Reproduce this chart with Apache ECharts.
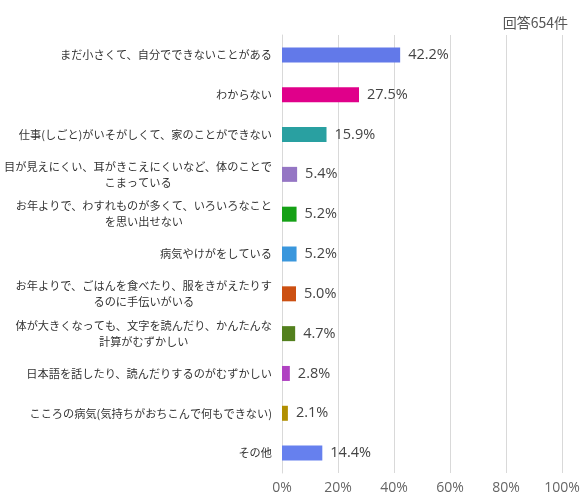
<!DOCTYPE html>
<html>
<head>
<meta charset="utf-8">
<script src="https://cdn.jsdelivr.net/npm/echarts@6/dist/echarts.min.js"></script>
<style>
  html, body { margin: 0; padding: 0; background: #fff; }
  #chart { width: 588px; height: 501px; }
</style>
</head>
<body>
<div id="chart"></div>
<script>
var categories = [
  'まだ小さくて、自分でできないことがある',
  'わからない',
  '仕事(しごと)がいそがしくて、家のことができない',
  '目が見えにくい、耳がきこえにくいなど、体のことで\nこまっている',
  'お年よりで、わすれものが多くて、いろいろなこと\nを思い出せない',
  '病気やけがをしている',
  'お年よりで、ごはんを食べたり、服をきがえたりす\nるのに手伝いがいる',
  '体が大きくなっても、文字を読んだり、かんたんな\n計算がむずかしい',
  '日本語を話したり、読んだりするのがむずかしい',
  'こころの病気(気持ちがおちこんで何もできない)',
  'その他'
];
var values = [42.2, 27.5, 15.9, 5.4, 5.2, 5.2, 5.0, 4.7, 2.8, 2.1, 14.4];
var colors = ['#6279E9', '#E0008A', '#29A0A1', '#9576C4', '#15A116', '#3A97DD',
              '#CC5012', '#53801E', '#B042C2', '#B18F00', '#6680EE'];
var xTicks = [0, 20, 40, 60, 80, 100];

var myChart = echarts.init(document.getElementById('chart'));

myChart.setOption({
    animation: false,
    title: {
        text: '回答654件',
        right: 15,
        top: 11,
        textStyle: {
            fontSize: 14,
            fontWeight: 'normal',
            color: '#555',
            fontFamily: '"Noto Sans CJK JP", sans-serif'
        }
    },
    grid: {
        left: 282,
        right: 26,
        top: 35,
        bottom: 28,
        containLabel: false,
        outerBoundsMode: 'none'
    },
    xAxis: {
        type: 'value',
        min: xTicks[0],
        max: xTicks[xTicks.length - 1],
        interval: 20,
        axisLine: { show: false },
        axisTick: { show: false },
        splitLine: { lineStyle: { color: '#d9d9d9' } },
        axisLabel: {
            formatter: '{value}%',
            color: '#666',
            fontSize: 14,
            margin: 8,
            fontFamily: '"Open Sans", sans-serif'
        }
    },
    yAxis: {
        type: 'category',
        inverse: true,
        data: categories,
        axisLine: { lineStyle: { color: '#d9d9d9' } },
        axisTick: { show: false },
        axisLabel: {
            margin: 10,
            color: '#333',
            formatter: function (v) {
                return v.split('\n').map(function (l) { return '{c|' + l + '}'; }).join('\n');
            },
            rich: {
                c: {
                    align: 'center',
                    fontSize: 11.2,
                    lineHeight: 16,
                    color: '#333',
                    fontFamily: '"Noto Sans CJK JP", sans-serif'
                }
            }
        }
    },
    series: [
        {
            type: 'bar',
            barWidth: 15,
            data: values.map(function (v, i) {
                return { value: v, itemStyle: { color: colors[i] } };
            }),
            label: {
                show: true,
                position: 'right',
                distance: 8,
                formatter: function (p) { return p.value.toFixed(1) + '%'; },
                color: '#444',
                fontSize: 14.5,
                fontFamily: '"Open Sans", sans-serif'
            }
        }
    ]
});
</script>
</body>
</html>
